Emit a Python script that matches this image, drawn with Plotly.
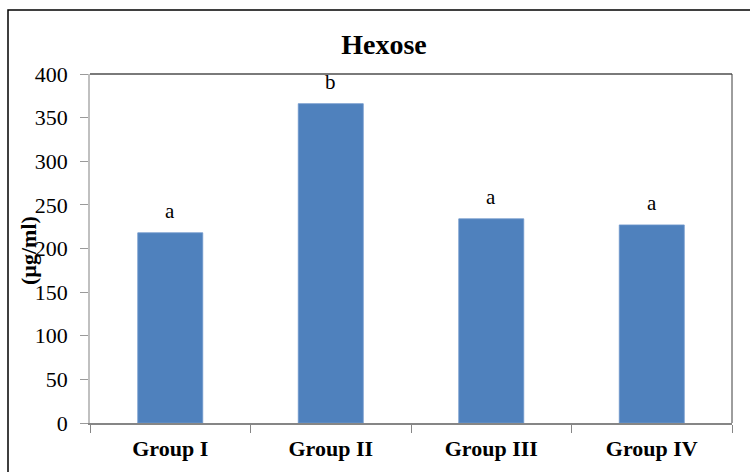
import plotly.graph_objects as go

groups = ["Group I", "Group II", "Group III", "Group IV"]
hexose = [218, 366, 234, 227]
letters = ["a", "b", "a", "a"]
y_ticks = [0, 50, 100, 150, 200, 250, 300, 350, 400]

FONT = "Liberation Serif, Times New Roman, serif"
W, H = 750, 472
L, R, T, B = 90, 18, 74, 49
pw, ph = W - L - R, H - T - B

fig = go.Figure()
fig.add_trace(go.Bar(
    x=groups, y=hexose,
    marker=dict(color="#4F81BD", line=dict(color="#6E97CC", width=0.8)),
    width=0.405,
    hoverinfo="x+y",
))

for g, v, t in zip(groups, hexose, letters):
    fig.add_annotation(x=g, y=v, text=t, showarrow=False, yanchor="middle",
                       yshift=22, font=dict(family=FONT, size=21, color="black"))

fig.add_annotation(xref="paper", yref="paper", x=(28 - L) / pw, y=(H - B - 251) / ph,
                   text="<b>(µg/ml)</b>", textangle=-90, showarrow=False,
                   xanchor="center", yanchor="middle",
                   font=dict(family=FONT, size=22, color="black"))

# outer frame
fig.add_shape(type="rect", xref="paper", yref="paper",
              x0=(8 - L) / pw, x1=(W + 40 - L) / pw,
              y0=-(B + 40) / ph, y1=(H - B - 10) / ph,
              line=dict(color="black", width=1.5), layer="above")
# plot-area top and right borders
fig.add_shape(type="line", xref="paper", yref="paper", x0=0, x1=1, y0=1, y1=1,
              line=dict(color="#7a7a7a", width=2))
fig.add_shape(type="line", xref="paper", yref="paper", x0=1, x1=1, y0=0, y1=1,
              line=dict(color="#3c3c3c", width=1))

fig.update_layout(
    width=W, height=H,
    margin=dict(l=L, r=R, t=T, b=B),
    paper_bgcolor="white", plot_bgcolor="white",
    showlegend=False,
    title=dict(text="<b>Hexose</b>", x=(384 - L) / pw, xref="paper", xanchor="center",
               y=1 - 44 / H, yanchor="middle",
               font=dict(family=FONT, size=28, color="black")),
    xaxis=dict(
        showline=True, linecolor="#868686", linewidth=1.5,
        ticks="outside", tickson="boundaries", ticklen=8, tickcolor="#868686",
        tickfont=dict(family=FONT, size=22, color="black"),
        showgrid=False, zeroline=False,
        tickprefix="<b>", ticksuffix="</b>",
        ticklabelstandoff=5,
    ),
    yaxis=dict(
        range=[0, 400], tickvals=y_ticks,
        showline=True, linecolor="#c0c0c0", linewidth=1.5,
        ticks="outside", ticklen=8, tickcolor="#9a9a9a",
        tickfont=dict(family=FONT, size=22, color="black"),
        showgrid=False, zeroline=False,
        ticklabelstandoff=8,
    ),
)

fig.write_html("out.html",
               config={"displayModeBar": False},
               post_script="document.body.style.margin='0';document.body.style.overflow='hidden';")
